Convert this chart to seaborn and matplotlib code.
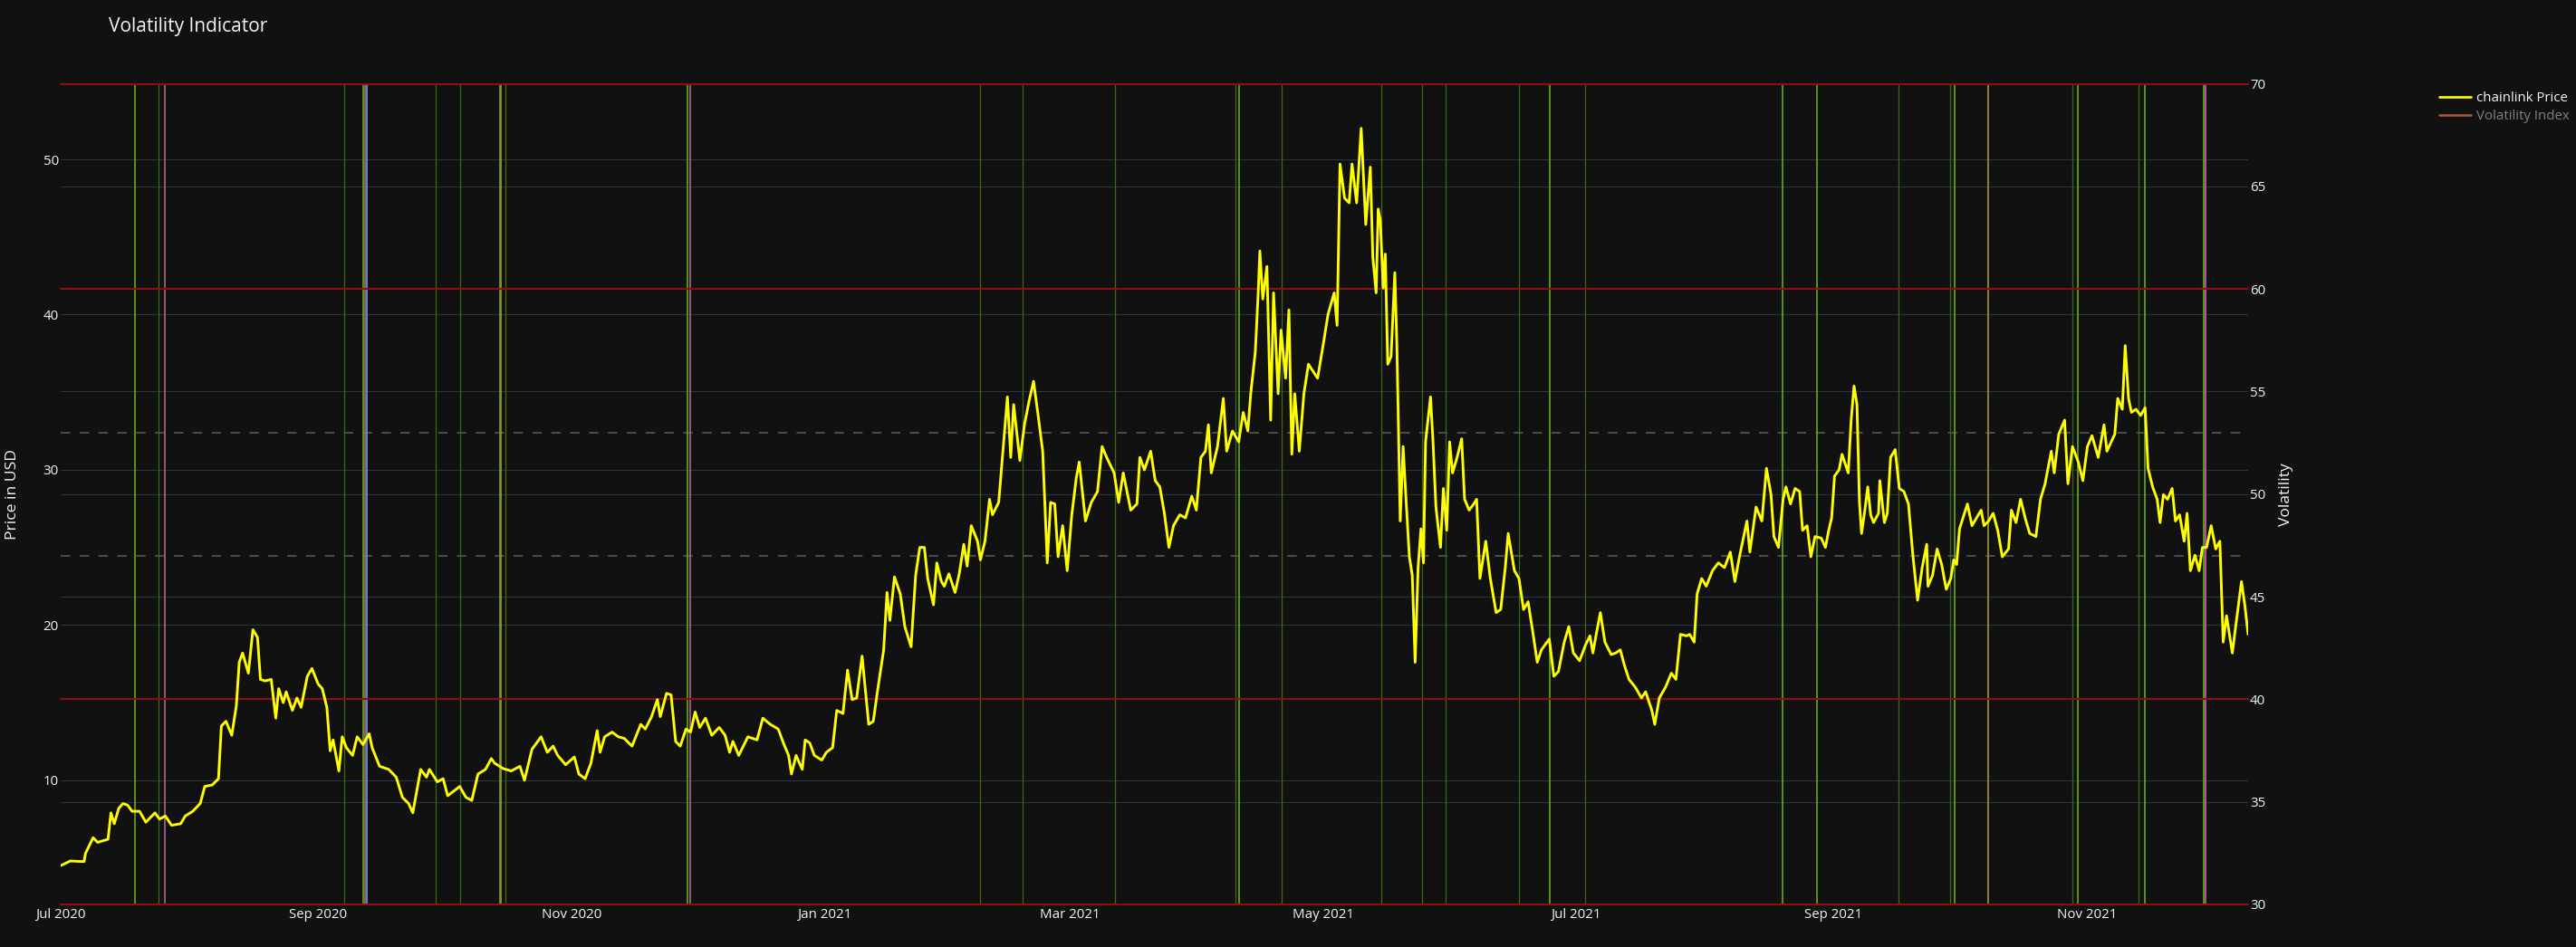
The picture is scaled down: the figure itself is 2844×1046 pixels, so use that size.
import pandas as pd
import matplotlib
matplotlib.use("Agg")
import matplotlib.pyplot as plt
import matplotlib.dates as mdates
import matplotlib.transforms as mtransforms
from matplotlib.lines import Line2D
import seaborn as sns


OUTPUT_PATH = "out.png"

START_DATE = pd.Timestamp("2020-07-01")

# chainlink price (days since 2020-07-01, USD)
PRICE_DAYS = [
    0.0, 2.3, 5.6, 6.0, 7.8, 8.9, 11.4, 12.1, 12.9, 14.0, 15.0, 16.1, 17.2, 19.0,
    20.5, 22.7, 23.8, 25.2, 26.7, 28.9, 30.0, 31.8, 33.6, 34.7, 36.5, 38.0, 38.7,
    39.8, 41.2, 42.3, 43.0, 43.8, 45.2, 46.3, 47.4, 48.1, 49.2, 50.7, 51.8, 52.5,
    53.6, 54.3, 55.8, 56.9, 57.9, 59.4, 60.5, 62.0, 63.0, 64.1, 64.9, 65.6, 67.0,
    67.8, 68.8, 70.3, 71.4, 72.8, 74.3, 75.0, 76.8, 79.0, 80.8, 82.3, 83.8, 84.8,
    86.7, 88.1, 88.8, 90.7, 92.1, 93.2, 96.1, 97.6, 99.0, 100.5, 102.3, 103.7,
    104.5, 106.6, 108.5, 110.6, 111.7, 113.5, 115.7, 117.2, 118.6, 119.7, 121.6,
    123.7, 124.8, 126.3, 127.7, 129.2, 129.9, 131.0, 132.8, 134.3, 135.7, 137.6,
    139.7, 140.8, 142.3, 143.7, 144.4, 145.9, 147.0, 148.1, 149.2, 150.6, 151.7,
    152.8, 153.9, 155.3, 156.8, 158.6, 160.0, 161.1, 161.9, 163.3, 165.5, 167.7,
    169.1, 170.9, 172.8, 174.2, 175.3, 176.0, 177.1, 178.6, 179.3, 180.4, 181.5,
    183.3, 184.4, 185.9, 186.9, 188.4, 189.5, 190.6, 191.7, 193.0, 194.6, 195.7,
    196.8, 198.2, 199.0, 199.7, 200.8, 202.2, 203.3, 204.8, 205.9, 206.9, 208.0,
    208.8, 210.2, 211.0, 212.1, 212.8, 213.9, 215.4, 216.4, 217.5, 218.3, 219.3,
    220.8, 221.5, 222.6, 223.7, 224.4, 225.9, 227.0, 228.0, 228.8, 229.5, 231.0,
    232.1, 233.2, 234.3, 235.4, 236.5, 237.6, 238.4, 239.4, 240.2, 241.3, 242.4,
    243.5, 244.6, 245.3, 246.8, 248.2, 249.7, 250.8, 251.9, 253.7, 254.8, 255.9,
    257.7, 259.2, 259.9, 261.0, 262.5, 263.6, 264.7, 265.8, 266.9, 268.0, 269.5,
    270.9, 272.4, 273.5, 274.6, 275.7, 276.4, 277.1, 278.6, 280.0, 280.8, 282.2,
    283.7, 284.8, 285.9, 286.6, 287.7, 288.4, 288.8, 289.5, 290.5, 291.4, 292.1,
    293.2, 293.9, 295.0, 295.8, 296.5, 297.2, 298.3, 299.4, 300.5, 302.7, 304.2,
    305.2, 306.7, 307.4, 308.1, 309.2, 310.3, 311.0, 312.1, 313.2, 314.3, 315.4,
    316.0, 316.8, 317.3, 317.8, 318.5, 319.0, 319.6, 320.4, 321.3, 321.8, 322.6,
    323.3, 324.0, 324.8, 325.5, 326.2, 326.9, 327.6, 328.2, 328.7, 329.4, 329.9,
    330.5, 331.2, 332.3, 333.0, 333.8, 334.5, 335.2, 336.3, 337.4, 338.1, 339.2,
    340.3, 341.0, 341.8, 343.2, 344.3, 345.7, 346.8, 347.9, 348.6, 350.1, 351.2,
    352.3, 353.4, 354.5, 355.6, 356.6, 358.5, 359.6, 360.7, 362.1, 363.2, 364.3,
    365.8, 367.2, 368.3, 369.0, 369.8, 370.8, 371.9, 373.4, 374.5, 375.6, 376.6,
    377.7, 379.2, 380.7, 381.7, 383.2, 383.9, 385.0, 386.5, 387.9, 389.0, 390.1,
    391.6, 392.3, 393.4, 394.1, 395.2, 396.3, 397.8, 399.2, 400.7, 402.1, 403.2,
    404.3, 406.1, 406.8, 408.3, 409.7, 410.8, 411.9, 412.6, 413.7, 414.8, 415.5,
    416.6, 417.7, 418.8, 419.5, 420.6, 421.5, 422.5, 424.0, 425.0, 425.8, 426.5,
    427.2, 428.3, 429.0, 430.5, 431.2, 431.9, 432.6, 433.2, 433.7, 434.4, 435.2,
    435.9, 436.6, 437.8, 438.1, 439.2, 439.9, 440.7, 441.8, 442.8, 443.9, 445.0,
    446.1, 447.2, 448.3, 449.4, 449.7, 450.8, 451.9, 453.0, 454.1, 455.2, 455.9,
    456.6, 457.3, 458.5, 459.2, 460.3, 461.4, 462.5, 463.2, 464.3, 465.4, 466.5,
    467.6, 469.1, 469.8, 470.9, 472.0, 473.1, 474.2, 475.7, 476.8, 477.9, 479.4,
    480.1, 481.2, 482.6, 483.4, 484.5, 485.9, 487.0, 488.1, 489.2, 490.7, 492.1,
    492.8, 494.7, 495.4, 496.5, 497.2, 498.0, 498.7, 499.8, 500.9, 502.0, 502.7,
    503.8, 504.9, 505.6, 506.4, 507.4, 508.5, 509.3, 510.3, 511.4, 512.1, 512.9,
    514.0, 515.0, 515.8, 516.8, 517.9, 519.0, 520.0, 520.8, 521.6, 523.0, 523.8,
    525.2, 526.0, 526.8,
]

PRICE_USD = [
    4.5, 4.8, 4.76, 5.3, 6.3, 6.0, 6.2, 7.9, 7.2, 8.2, 8.5, 8.4, 8.0, 8.0,
    7.3, 7.9, 7.5, 7.7, 7.1, 7.2, 7.7, 8.0, 8.5, 9.6, 9.7, 10.1, 13.5,
    13.8, 12.9, 14.8, 17.6, 18.2, 16.9, 19.7, 19.2, 16.5, 16.4, 16.5, 14.0, 15.9,
    15.0, 15.7, 14.5, 15.3, 14.7, 16.7, 17.2, 16.2, 15.9, 14.7, 11.9, 12.6, 10.6,
    12.8, 12.1, 11.6, 12.8, 12.3, 13.0, 12.1, 10.9, 10.7, 10.2, 8.9, 8.5, 7.9,
    10.7, 10.2, 10.7, 9.9, 10.1, 9.0, 9.6, 8.9, 8.7, 10.4, 10.7, 11.4,
    11.1, 10.75, 10.6, 10.9, 10.0, 12.0, 12.8, 11.8, 12.2, 11.6, 11.0,
    11.5, 10.4, 10.1, 11.1, 13.2, 11.8, 12.8, 13.1, 12.8, 12.7, 12.2,
    13.6, 13.3, 14.1, 15.2, 14.1, 15.6, 15.5, 12.5, 12.2, 13.3, 13.1,
    14.4, 13.4, 14.0, 12.9, 13.4, 12.9, 11.8, 12.5, 11.6, 12.8, 12.6,
    14.0, 13.6, 13.3, 12.3, 11.6, 10.4, 11.6, 10.7, 12.6, 12.4, 11.6,
    11.3, 11.8, 12.1, 14.5, 14.3, 17.1, 15.2, 15.3, 18.0, 13.6, 13.8,
    15.9, 18.4, 22.1, 20.3, 23.1, 22.0, 19.9, 18.6, 23.2, 25.0, 25.0,
    23.0, 21.3, 24.0, 22.8, 22.5, 23.3, 22.1, 23.3, 25.2, 23.8, 26.4,
    25.4, 24.2, 25.4, 28.1, 27.1, 27.9, 31.5, 34.7, 30.8, 34.2, 30.6,
    32.9, 34.4, 35.7, 33.5, 31.2, 24.0, 27.9, 27.8, 24.4, 26.4, 23.5,
    27.1, 29.5, 30.5, 26.7, 27.9, 28.6, 31.5, 30.8, 29.8, 27.9, 29.8,
    27.4, 27.8, 30.8, 30.0, 31.2, 29.3, 28.9, 27.2, 25.0, 26.4, 27.1,
    26.9, 28.3, 27.4, 30.8, 31.2, 32.9, 29.8, 31.5, 34.6, 31.2, 32.5,
    31.8, 33.7, 32.5, 34.9, 37.6, 41.4, 44.1, 41.0, 43.1, 33.2, 41.4,
    34.9, 39.0, 35.9, 40.3, 31.0, 34.9, 31.2, 34.9, 36.8, 35.9, 38.3,
    40.0, 41.4, 39.3, 49.7, 47.5, 47.2, 49.7, 47.2, 52.0, 45.8, 49.5,
    43.7, 41.4, 46.8, 46.1, 41.7, 43.9, 36.8, 37.3, 42.7, 38.0, 26.7,
    31.5, 28.1, 24.4, 23.2, 17.6, 23.7, 26.2, 24.0, 31.8, 33.5, 34.7,
    31.8, 27.6, 25.0, 28.8, 26.1, 31.8, 29.8, 30.8, 32.0, 28.1, 27.4,
    27.8, 28.1, 23.0, 25.4, 23.0, 20.8, 21.0, 23.7, 25.9, 23.5, 23.0,
    21.0, 21.5, 19.6, 17.6, 18.4, 19.1, 16.7, 17.0, 18.9, 19.9, 18.2,
    17.7, 18.7, 19.3, 18.2, 19.4, 20.8, 18.9, 18.1, 18.2, 18.4, 17.4,
    16.5, 16.0, 15.3, 15.7, 14.5, 13.6, 15.3, 16.0, 16.9, 16.5, 19.4,
    19.3, 19.4, 18.9, 22.0, 23.0, 22.5, 23.5, 24.0, 23.7, 24.7, 22.8,
    24.4, 26.7, 24.7, 27.6, 26.7, 30.1, 28.4, 25.7, 25.0, 28.1, 28.9,
    27.8, 28.8, 28.6, 26.1, 26.4, 24.4, 25.7, 25.6, 25.0, 26.1, 26.9,
    29.6, 30.0, 31.0, 29.8, 33.2, 35.4, 34.2, 27.9, 25.9, 27.2, 28.9,
    27.1, 26.6, 27.2, 29.3, 26.6, 27.2, 30.8, 31.3, 28.8, 28.6, 27.8,
    24.4, 21.6, 23.7, 25.2, 22.5, 23.2, 24.9, 23.9, 22.3, 23.0, 24.2,
    23.9, 26.2, 27.2, 27.8, 26.4, 26.9, 27.4, 26.4, 26.7, 27.2, 26.1,
    24.4, 24.9, 27.4, 26.6, 28.1, 26.9, 25.9, 25.7, 28.1, 29.1, 31.2,
    29.8, 32.3, 33.2, 29.1, 31.5, 30.5, 29.3, 31.5, 32.2, 30.8, 32.9,
    31.2, 32.3, 34.6, 33.9, 38.0, 34.6, 33.7, 33.9, 33.5, 34.0, 30.1,
    28.9, 28.1, 26.6, 28.4, 28.1, 28.8, 26.7, 27.1, 25.4, 27.2, 23.5,
    24.5, 23.5, 25.0, 25.0, 26.4, 24.9, 25.4, 18.9, 20.6, 18.2, 19.9,
    22.8, 21.3, 19.4,
]

# signal days (days since 2020-07-01) drawn as vertical lines
GREEN_DIM_DAYS = [
    23.6, 68.3, 90.4, 96.3, 107.0, 221.3, 231.6, 254.0, 282.9, 294.1, 318.0,
    327.9, 333.5, 351.3, 367.1, 442.7, 455.1, 484.5, 500.5,
]
GREEN_BRIGHT_DAYS = [
    17.8, 72.9, 105.8, 150.9, 283.9, 358.7, 414.7, 422.9, 456.2, 485.8, 501.9, 516.1,
]
PINK_MUTED_DAYS = [25.0, 73.3, 151.5]
PINK_DAYS = [516.6]
BLUE_DAYS = [73.7]
ORANGE_DAYS = [106.1, 464.1]

VOL_RED_LEVELS = [30, 40, 60, 70]
VOL_DASH_LEVELS = [47, 53]
VOL_TICKS = [30, 35, 40, 45, 50, 55, 60, 65, 70]
PRICE_TICKS = [10, 20, 30, 40, 50]

BG = "#111111"
FG = "#f2f5fa"
GRID = "#283442"


def to_dates(days):
    return START_DATE + pd.to_timedelta(days, unit="D")


def plot_volatility_indicator():

    sns.set_theme(style="dark", rc={
        "axes.facecolor": BG,
        "figure.facecolor": BG,
        "text.color": FG,
        "axes.labelcolor": FG,
        "xtick.color": FG,
        "ytick.color": FG,
    })
    plt.rcParams["font.family"] = ["Open Sans", "DejaVu Sans"]

    prices = pd.DataFrame({
        "Date": to_dates(PRICE_DAYS),
        "Price": PRICE_USD,
    })

    W, H = 2844, 1046
    left, right, top, bottom = 67, 2482, 92.5, 999
    fig = plt.figure(figsize=(W / 100, H / 100), dpi=100)

    # bottom axes: volatility scale, holds all reference lines
    ax_vol = fig.add_axes([left / W, 1 - bottom / H, (right - left) / W, (bottom - top) / H])
    ax_price = ax_vol.twinx()

    ax_vol.set_xlim(prices["Date"].iloc[0], prices["Date"].iloc[-1])
    ax_vol.set_ylim(30, 70)
    ax_price.set_ylim(2.0, 54.87)

    # grid of both y axes
    price_trans = mtransforms.blended_transform_factory(ax_vol.transAxes, ax_price.transData)
    for p in PRICE_TICKS:
        ax_vol.plot([0, 1], [p, p], transform=price_trans, color=GRID, lw=0.8, zorder=1)
    for v in VOL_TICKS:
        if v not in VOL_RED_LEVELS:
            ax_vol.axhline(v, color=GRID, lw=0.8, zorder=1)

    for v in VOL_DASH_LEVELS:
        ax_vol.axhline(v, color="#4a4a4a", lw=1.5, ls=(0, (5, 5)), zorder=1.5)

    for d in to_dates(GREEN_DIM_DAYS):
        ax_vol.axvline(d, color="#3d6a0e", lw=0.9, zorder=2)
    for d in to_dates(GREEN_BRIGHT_DAYS):
        ax_vol.axvline(d, color="#5e9e16", lw=1.3, zorder=2)
    for d in to_dates(ORANGE_DAYS):
        ax_vol.axvline(d, color="#948a3c", lw=1.3, zorder=2.1)
    for d in to_dates(PINK_MUTED_DAYS):
        ax_vol.axvline(d, color="#a8668a", lw=1.2, zorder=2.2)
    for d in to_dates(PINK_DAYS):
        ax_vol.axvline(d, color="#c452b4", lw=1.3, zorder=2.2)
    for d in to_dates(BLUE_DAYS):
        ax_vol.axvline(d, color="#6a8fd0", lw=1.3, zorder=2.3)

    for v in VOL_RED_LEVELS:
        ax_vol.axhline(v, color="#8e0f0f", lw=1.5, zorder=3, clip_on=False)

    # price line on top
    ax_price.set_zorder(ax_vol.get_zorder() + 1)
    ax_price.patch.set_visible(False)
    sns.lineplot(
        data=prices,
        x="Date",
        y="Price",
        ax=ax_price,
        color="#ffff00",
        linewidth=2.1,
        estimator=None,
        legend=False,
    )

    # axes cosmetics
    ax_vol.yaxis.tick_right()
    ax_vol.yaxis.set_label_position("right")
    ax_price.yaxis.tick_left()
    ax_price.yaxis.set_label_position("left")

    ax_vol.set_yticks(VOL_TICKS)
    ax_price.set_yticks(PRICE_TICKS)
    ax_vol.xaxis.set_major_locator(mdates.MonthLocator(bymonth=[1, 3, 5, 7, 9, 11]))
    ax_vol.xaxis.set_major_formatter(mdates.DateFormatter("%b %Y"))

    for a in (ax_vol, ax_price):
        a.grid(False)
        for s in a.spines.values():
            s.set_visible(False)
        a.tick_params(axis="both", length=0, labelsize=10.8, colors=FG)
    ax_vol.tick_params(axis="y", pad=1.5)
    ax_price.tick_params(axis="y", pad=1.5)
    ax_vol.tick_params(axis="x", pad=3)
    ax_price.set_xlabel("")
    ax_vol.set_xlabel("")

    ax_price.set_ylabel("Price in USD", fontsize=12.6, color=FG)
    ax_price.yaxis.label.set_verticalalignment("center")
    ax_price.yaxis.set_label_coords((14 - left) / (right - left), 0.5)
    ax_vol.set_ylabel("Volatility", fontsize=12.6, color=FG)
    ax_vol.yaxis.label.set_verticalalignment("center")
    ax_vol.yaxis.set_label_coords((2524 - left) / (right - left), 0.5)

    fig.text(120 / W, 1 - 29 / H, "Volatility Indicator", fontsize=15,
             color=FG, ha="left", va="center")

    handles = [
        Line2D([], [], color="#ffff00", lw=1.9),
        Line2D([], [], color="#a0573a", lw=1.9),
    ]
    leg = fig.legend(
        handles,
        ["chainlink Price", "Volatility Index"],
        loc="upper left",
        bbox_to_anchor=(2693 / W, 1 - 101 / H),
        frameon=False,
        fontsize=10.8,
        handlelength=2.3,
        handletextpad=0.45,
        labelspacing=0.35,
        borderpad=0,
        borderaxespad=0,
    )
    leg.get_texts()[0].set_color(FG)
    leg.get_texts()[1].set_color("#7f8083")

    fig.savefig(OUTPUT_PATH, dpi=100, facecolor=BG)


if __name__ == "__main__":

    plot_volatility_indicator()
